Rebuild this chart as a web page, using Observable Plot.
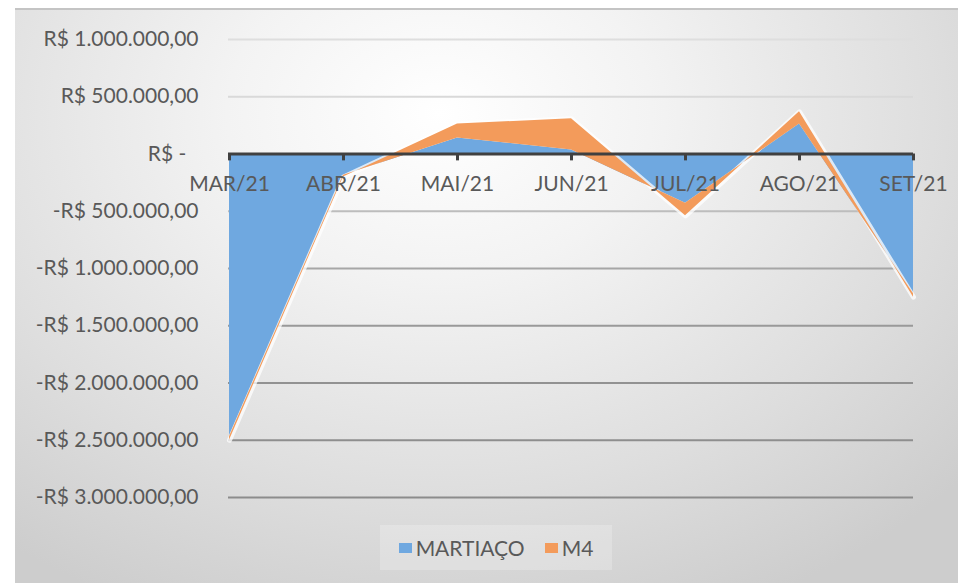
<!DOCTYPE html>
<html>
<head>
<meta charset="utf-8">
<script src="https://cdn.jsdelivr.net/npm/d3@7"></script>
<script src="https://cdn.jsdelivr.net/npm/@observablehq/plot@0.6"></script>
<style>
  html, body { margin: 0; padding: 0; background: #ffffff; }
  #frame {
    position: absolute; left: 15px; top: 8px; width: 943px; height: 575px;
    background: radial-gradient(ellipse 75% 95% at 45% 18%, #ffffff 0%, #f3f3f3 30%, #dedede 70%, #cdcdcd 100%);
    border-top: 2px solid #c4c4c4;
    box-sizing: border-box;
    font-family: Lato, "Liberation Sans", sans-serif;
  }
  #chart svg { background: transparent; display: block; }
  #legend {
    position: absolute; left: 365px; top: 515px; width: 232px; height: 45px;
    background: rgba(255,255,255,0.22);
    display: flex; align-items: center; justify-content: center; gap: 20px;
    color: #595959; font-size: 21px;
  }
  #legend .item { display: flex; align-items: center; gap: 4px; }
  #legend .sw { width: 13px; height: 10px; display: inline-block; }
</style>
</head>
<body>
<div id="frame">
  <div id="chart"></div>
  <div id="legend">
    <span class="item"><span class="sw" style="background:#6fa8e0"></span>MARTIAÇO</span>
    <span class="item"><span class="sw" style="background:#f39b5b"></span>M4</span>
  </div>
</div>
<script>
// Stacked area (Excel style: M4 is stacked on top of MARTIAÇO)
const months = ["MAR/21", "ABR/21", "MAI/21", "JUN/21", "JUL/21", "AGO/21", "SET/21"];
const martiaco = [-2470000, -185000, 140000, 35000, -430000, 263000, -1220000];
const m4 = [-30000, -15000, 123000, 272000, -110000, 105000, -30000];
const yTicks = [1000000, 500000, -500000, -1000000, -1500000, -2000000, -2500000, -3000000];
const yTickLabels = ["R$ 1.000.000,00", "R$ 500.000,00", "R$ -\u2007", "-R$ 500.000,00", "-R$ 1.000.000,00", "-R$ 1.500.000,00", "-R$ 2.000.000,00", "-R$ 2.500.000,00", "-R$ 3.000.000,00"];
const allTicks = [1000000, 500000, 0, -500000, -1000000, -1500000, -2000000, -2500000, -3000000];
const gridColors = ["#dedede", "#d9d9d9", "#bdbdbd", "#a6a6a6", "#999999", "#929292", "#8e8e8e", "#8c8c8c"];

const data = months.map((m, i) => ({month: m, b: martiaco[i], top: martiaco[i] + m4[i]}));
const grid = yTicks.map((v, i) => ({v, c: gridColors[i]}));
const labelMap = new Map(allTicks.map((v, i) => [v, yTickLabels[i]]));

const chart = Plot.plot({
  width: 943,
  height: 513,
  marginLeft: 213,
  marginRight: 45,
  marginTop: 29,
  marginBottom: 26,
  style: {background: "transparent", fontFamily: "Lato, 'Liberation Sans', sans-serif", fontSize: "21px", color: "#595959"},
  x: {type: "point", domain: months, padding: 0, axis: null},
  y: {domain: [-3000000, 1000000], ticks: allTicks},
  marks: [
    Plot.ruleY(grid, {y: "v", stroke: "c", strokeWidth: 2}),
    Plot.axisY({ticks: allTicks, tickSize: 0, tickPadding: 30, tickFormat: d => labelMap.get(d), fill: "#595959", fontSize: 21, label: null}),
    Plot.areaY(data, {x: "month", y1: 0, y2: "b", fill: "#6fa8e0"}),
    Plot.lineY(data, {x: "month", y: "top", stroke: "#ffffff", strokeOpacity: 0.75, strokeWidth: 5, strokeLinejoin: "round"}),
    Plot.areaY(data, {x: "month", y1: "b", y2: "top", fill: "#f39b5b"}),
    Plot.ruleY([0], {stroke: "#404040", strokeWidth: 3}),
    Plot.ruleX(months, {x: d => d, y1: 0, y2: -60000, stroke: "#404040", strokeWidth: 3}),
    Plot.text(months, {x: d => d, y: 0, dy: 30, text: d => d, fill: "#595959", fontSize: 21})
  ]
});
document.getElementById("chart").appendChild(chart);
</script>
</body>
</html>
